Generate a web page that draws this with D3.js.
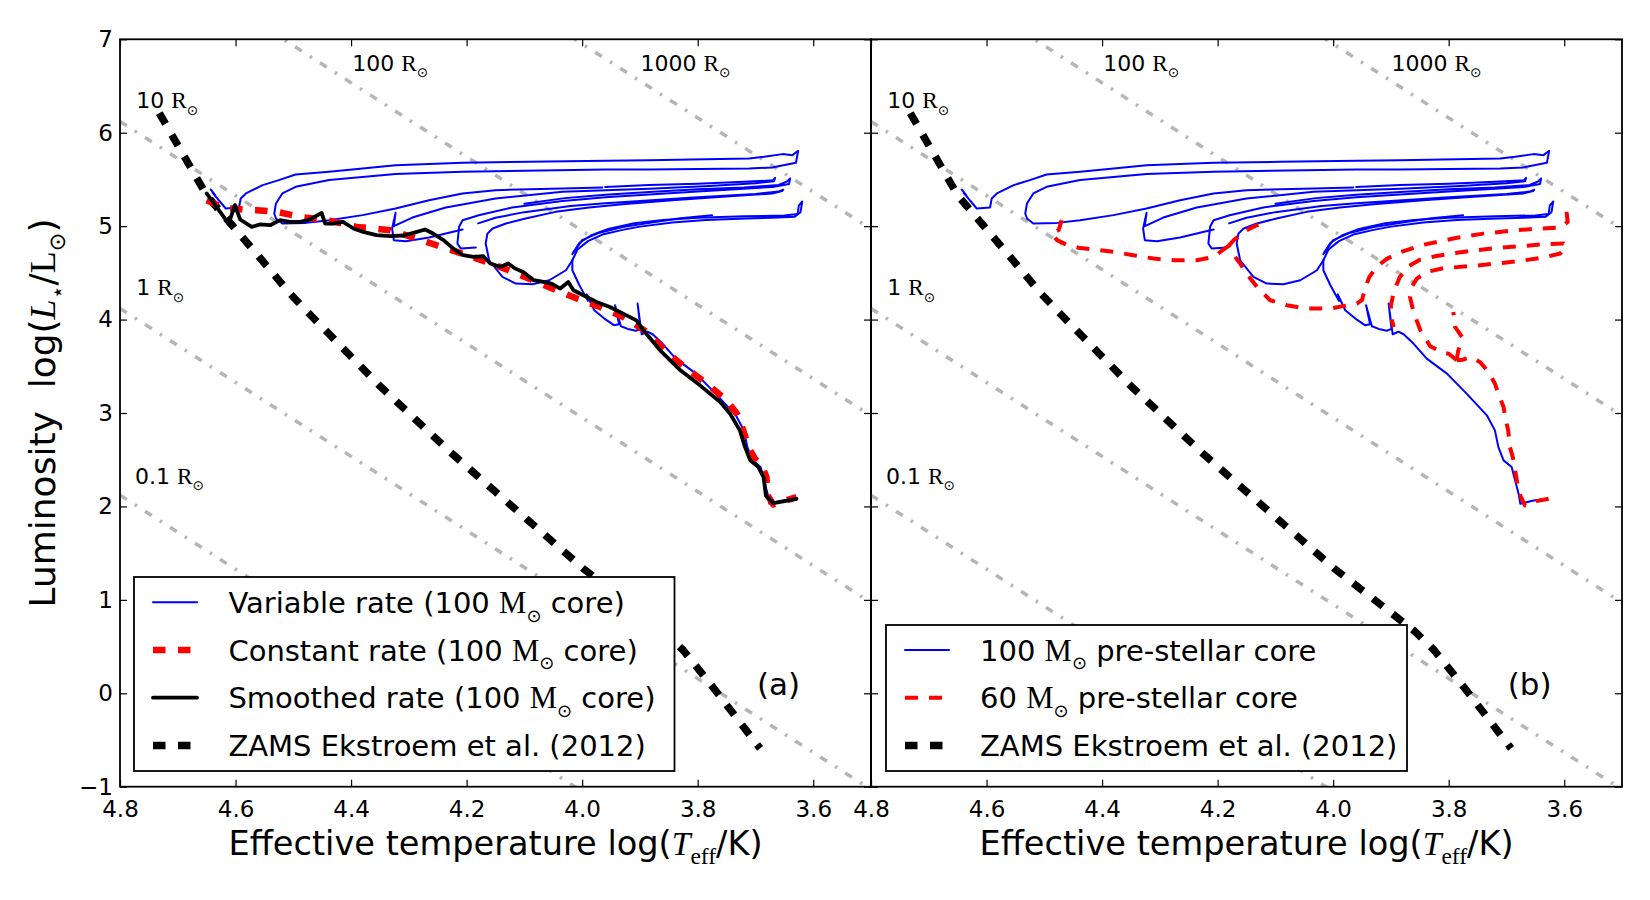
<!DOCTYPE html>
<html lang="en">
<head>
<meta charset="UTF-8" />
<title>HR diagram - accretion tracks</title>
<script src="https://d3js.org/d3.v7.min.js"></script>
<style>
  body { margin: 0; background: #fff; }
  svg { display: block; }
  text { font-family: "DejaVu Sans", sans-serif; fill: #000; }
</style>
</head>
<body>
<svg id="chart" width="1650" height="900"></svg>
<script>
// ---- data (logT, logL) ----
const xTicks = [4.8, 4.6, 4.4, 4.2, 4.0, 3.8, 3.6];
const yTicks = [-1, 0, 1, 2, 3, 4, 5, 6, 7];

// lines of constant radius: logL at logT = 4.8 and at logT = 3.5
const radiusNames = ["0.1", "1", "10", "100", "1000"];
const radiusLHot = [2.12, 4.12, 6.12, 8.12, 10.12];
const radiusLCool = [-3.03, -1.03, 0.97, 2.97, 4.97];
const radiusLabelAt = [[4.774, 2.245], [4.772, 4.26], [4.772, 6.264], [4.398, 6.664], [3.899, 6.664]];

const zams = [[4.732, 6.21], [4.69, 5.76], [4.65, 5.33], [4.555, 4.64], [4.506, 4.28], [4.472, 4.06],
  [4.352, 3.30], [4.228, 2.58], [4.097, 1.87], [3.999, 1.34], [3.86, 0.67], [3.825, 0.46],
  [3.773, 0.06], [3.692, -0.59]];

const constantRate = [[4.650, 5.278], [4.621, 5.200], [4.586, 5.178], [4.563, 5.171], [4.529, 5.153],
  [4.488, 5.100], [4.436, 5.057], [4.390, 4.992], [4.333, 4.957], [4.286, 4.867], [4.252, 4.796],
  [4.217, 4.725], [4.182, 4.653], [4.142, 4.564], [4.113, 4.492], [4.079, 4.403], [4.044, 4.314],
  [4.009, 4.225], [3.969, 4.135], [3.929, 4.028], [3.888, 3.868], [3.854, 3.653], [3.819, 3.475],
  [3.784, 3.314], [3.750, 3.135], [3.732, 2.993], [3.721, 2.814], [3.712, 2.635], [3.701, 2.510],
  [3.689, 2.439], [3.681, 2.314], [3.679, 2.117], [3.669, 2.021], [3.629, 2.100]];

const smoothedRate = [[4.650, 5.350], [4.612, 5.028], [4.601, 5.225], [4.592, 5.071], [4.572, 4.992],
  [4.558, 5.018], [4.540, 5.010], [4.523, 5.064], [4.506, 5.046], [4.488, 5.046], [4.471, 5.071],
  [4.451, 5.142], [4.445, 5.028], [4.431, 5.028], [4.414, 5.046], [4.396, 4.975], [4.379, 4.939],
  [4.356, 4.903], [4.333, 4.893], [4.309, 4.900], [4.286, 4.939], [4.272, 4.964], [4.258, 4.921],
  [4.240, 4.850], [4.223, 4.760], [4.206, 4.689], [4.188, 4.671], [4.171, 4.678], [4.159, 4.600],
  [4.142, 4.564], [4.128, 4.600], [4.116, 4.546], [4.102, 4.510], [4.084, 4.421], [4.067, 4.403],
  [4.053, 4.385], [4.038, 4.332], [4.024, 4.403], [4.015, 4.314], [3.998, 4.260], [3.975, 4.189],
  [3.952, 4.135], [3.929, 4.064], [3.906, 3.992], [3.894, 3.885], [3.865, 3.671], [3.830, 3.457],
  [3.796, 3.296], [3.761, 3.117], [3.744, 2.993], [3.727, 2.814], [3.718, 2.635], [3.709, 2.493],
  [3.695, 2.421], [3.686, 2.314], [3.682, 2.117], [3.669, 2.035], [3.652, 2.053], [3.629, 2.082]];

// variable accretion rate / 100 Msun pre-stellar core (same track in both panels)
const blueAscent = [[3.630, 2.082], [3.655, 2.06], [3.676, 2.028], [3.679, 2.135], [3.685, 2.278],
  [3.691, 2.421], [3.705, 2.493], [3.714, 2.635], [3.720, 2.814], [3.734, 2.975], [3.769, 3.207],
  [3.803, 3.421], [3.838, 3.582], [3.861, 3.743], [3.878, 3.843], [3.887, 3.87], [3.897, 3.843],
  [3.904, 4.171], [3.899, 3.90], [3.907, 3.88], [3.921, 3.90], [3.933, 3.928], [3.943, 4.153],
  [3.936, 3.95], [3.945, 3.94], [3.959, 3.999], [3.979, 4.10], [3.992, 4.27], [3.990, 4.20],
  [4.005, 4.37], [4.017, 4.528], [4.017, 4.635]];
const blueLowFinger = [[4.017, 4.635], [4.008, 4.75], [3.990, 4.84], [3.965, 4.91], [3.930, 4.96],
  [3.900, 4.995], [3.844, 5.04], [3.786, 5.065], [3.728, 5.08], [3.671, 5.09], [3.632, 5.10],
  [3.622, 5.15], [3.619, 5.265], [3.625, 5.22], [3.627, 5.13], [3.650, 5.115], [3.720, 5.105],
  [3.800, 5.09], [3.860, 5.065], [3.910, 5.03], [3.955, 4.97], [3.985, 4.90], [4.005, 4.82], [4.015, 4.72]];
const blueLowEnd = [[4.017, 4.70], [4.000, 4.85], [3.970, 4.93], [3.930, 4.99], [3.880, 5.04],
  [3.830, 5.085], [3.775, 5.117]];
const blueU = [[4.017, 4.635], [4.028, 4.528], [4.057, 4.421], [4.086, 4.378], [4.115, 4.385],
  [4.138, 4.457], [4.161, 4.635], [4.167, 4.814], [4.164, 4.92], [4.155, 4.975], [4.132, 5.028],
  [4.098, 5.082], [4.046, 5.153], [3.988, 5.20], [3.930, 5.235], [3.844, 5.278], [3.757, 5.314],
  [3.671, 5.35], [3.654, 5.375], [3.652, 5.39], [3.660, 5.37], [3.700, 5.345], [3.800, 5.31],
  [3.900, 5.27], [3.960, 5.245], [4.020, 5.215], [4.100, 5.15], [4.150, 5.09], [4.180, 5.03]];
const blueCheck21 = [[4.184, 4.771], [4.210, 4.760], [4.216, 4.814], [4.213, 4.993], [4.207, 5.064],
  [4.179, 5.117], [4.121, 5.20], [4.034, 5.27], [3.960, 5.31], [3.884, 5.34], [3.800, 5.37],
  [3.720, 5.40], [3.670, 5.42], [3.642, 5.45], [3.640, 5.51], [3.645, 5.48], [3.660, 5.44],
  [3.720, 5.415], [3.800, 5.395], [3.884, 5.365], [3.960, 5.335], [4.030, 5.30], [4.100, 5.24]];
const blueCheck33 = [[4.207, 4.964], [4.265, 4.878], [4.305, 4.839], [4.326, 4.850], [4.329, 4.975],
  [4.323, 5.142], [4.326, 5.00], [4.294, 5.092], [4.236, 5.200], [4.150, 5.296], [4.034, 5.367],
  [3.884, 5.40], [3.780, 5.43], [3.700, 5.46], [3.668, 5.48], [3.666, 5.517], [3.670, 5.49],
  [3.720, 5.475], [3.800, 5.455], [3.884, 5.44], [3.960, 5.42]];
const blueTop = [[4.643, 5.393], [4.635, 5.33], [4.640, 5.36], [4.628, 5.27], [4.632, 5.30],
  [4.617, 5.189], [4.594, 5.200], [4.591, 5.296], [4.582, 5.350], [4.553, 5.439], [4.525, 5.493],
  [4.496, 5.553], [4.438, 5.582], [4.380, 5.617], [4.323, 5.653], [4.207, 5.678], [4.092, 5.689],
  [3.959, 5.700], [3.884, 5.705], [3.711, 5.725], [3.685, 5.742], [3.653, 5.771], [3.636, 5.760],
  [3.626, 5.807], [3.630, 5.678], [3.671, 5.628], [3.711, 5.617], [3.884, 5.607], [3.959, 5.607],
  [4.207, 5.582], [4.323, 5.557], [4.438, 5.493], [4.496, 5.421], [4.519, 5.350], [4.530, 5.243],
  [4.533, 5.135], [4.530, 5.082], [4.519, 5.028], [4.478, 5.035], [4.438, 5.064], [4.380, 5.118],
  [4.323, 5.189], [4.265, 5.278], [4.207, 5.350], [4.150, 5.385], [4.034, 5.403], [3.965, 5.414]];
const variableRate = [blueAscent, blueLowFinger, blueLowEnd, blueU, blueCheck21, blueCheck33, blueTop];

// 60 Msun pre-stellar core
const redAscent = [[3.627, 2.082], [3.648, 2.057], [3.668, 2.010], [3.676, 2.117], [3.681, 2.242],
  [3.685, 2.385], [3.689, 2.528], [3.694, 2.635], [3.697, 2.814], [3.701, 2.921], [3.705, 3.064],
  [3.714, 3.207], [3.720, 3.314], [3.731, 3.439], [3.746, 3.546], [3.762, 3.60], [3.776, 3.57], [3.786, 3.564]];
const redVertical = [[3.786, 3.564], [3.784, 3.65], [3.780, 3.743], [3.777, 3.814], [3.789, 3.921], [3.792, 4.082]];
const redInner = [[3.786, 3.564], [3.800, 3.635], [3.809, 3.642], [3.832, 3.714], [3.849, 3.885],
  [3.861, 4.082], [3.867, 4.243], [3.864, 4.35], [3.855, 4.439], [3.838, 4.51], [3.809, 4.55],
  [3.757, 4.575], [3.717, 4.60], [3.676, 4.628], [3.636, 4.664], [3.607, 4.707], [3.597, 4.778],
  [3.601, 4.814], [3.636, 4.807], [3.676, 4.785], [3.717, 4.765], [3.757, 4.74], [3.792, 4.71],
  [3.821, 4.68], [3.850, 4.64], [3.870, 4.57], [3.885, 4.45], [3.895, 4.30], [3.900, 4.15],
  [3.900, 4.03], [3.895, 3.92]];
const redOuter = [[3.596, 5.153], [3.594, 5.046], [3.606, 4.985], [3.653, 4.97], [3.694, 4.95],
  [3.740, 4.92], [3.786, 4.875], [3.844, 4.80], [3.884, 4.72], [3.907, 4.65], [3.924, 4.57],
  [3.937, 4.46], [3.944, 4.35], [3.950, 4.21], [3.959, 4.171], [4.005, 4.118], [4.046, 4.118],
  [4.080, 4.153], [4.109, 4.207], [4.132, 4.35], [4.150, 4.492], [4.161, 4.60], [4.178, 4.742], [4.181, 4.79]];
const redRise = [[4.181, 4.79], [4.172, 4.85], [4.161, 4.903], [4.150, 4.957], [4.132, 5.01], [4.118, 5.035]];
const redLeft = [[4.181, 4.79], [4.207, 4.671], [4.236, 4.635], [4.276, 4.635], [4.311, 4.653],
  [4.346, 4.689], [4.380, 4.725], [4.415, 4.75], [4.438, 4.765], [4.461, 4.80], [4.478, 4.85],
  [4.487, 4.92], [4.475, 4.96], [4.470, 5.064]];
const core60 = [redAscent, redVertical, redInner, redOuter, redRise, redLeft];

const legendA = ["Variable rate (100 M☉ core)", "Constant rate (100 M☉ core)",
  "Smoothed rate (100 M☉ core)", "ZAMS Ekstroem et al. (2012)"];
const legendB = ["100 M☉ pre-stellar core", "60 M☉ pre-stellar core", "ZAMS Ekstroem et al. (2012)"];

// ---- drawing ----
const SERIF = "'Liberation Serif', 'DejaVu Serif', serif";
const svg = d3.select("#chart");
const W = 751, TOP = 39.3, BOTTOM = 786.7;
const y = d3.scaleLinear().domain([-1, 7]).range([BOTTOM, TOP]);

const styles = {
  radius: { stroke: "#b5b5b5", width: 3.5, dash: "8,9.6,2.5,9.6" },
  zams: { stroke: "#000", width: 7.5, dash: "12.5,12.5" },
  blue: { stroke: "#0000ff", width: 2, dash: null },
  constant: { stroke: "#ff0000", width: 6.5, dash: "12.5,12.5" },
  smoothed: { stroke: "#000", width: 3.8, dash: null },
  red60: { stroke: "#ff0000", width: 4, dash: "13,11" }
};

// text with "M☉" / "R☉" drawn as serif letter + subscript sun sign
function richText(sel, str, size) {
  const pieces = str.split(/(M☉|R☉)/);
  let shifted = false;
  pieces.forEach(p => {
    if (!p) return;
    if (p === "M☉" || p === "R☉") {
      const a = sel.append("tspan").attr("font-family", SERIF).attr("font-size", size * 1.06).text(p[0]);
      if (shifted) a.attr("dy", -size * 0.3);
      sel.append("tspan").attr("font-family", "'DejaVu Sans', sans-serif")
        .attr("font-size", size * 0.62).attr("dy", size * 0.3).text("\u2299");
      shifted = true;
    } else {
      const t = sel.append("tspan").text(p);
      if (shifted) t.attr("dy", -size * 0.3);
      shifted = false;
    }
  });
}

function parts(sel, list, size) {
  let shift = 0;
  list.forEach(([s, kind]) => {
    const t = sel.append("tspan").text(s);
    let dy;
    if (kind === "sub") {
      t.attr("font-family", SERIF).attr("font-size", size * 0.7);
      dy = size * 0.28 - shift; shift = size * 0.28;
    } else if (kind === "subsans") {
      t.attr("font-size", size * 0.62);
      dy = size * 0.28 - shift; shift = size * 0.28;
    } else {
      dy = -shift; shift = 0;
      if (kind === "it") t.attr("font-family", SERIF).attr("font-style", "italic");
      if (kind === "rm") t.attr("font-family", SERIF);
    }
    if (dy) t.attr("dy", dy);
  });
}

function drawLine(g, data, st, line) {
  const p = g.append("path").datum(data).attr("d", line)
    .attr("fill", "none").attr("stroke", st.stroke).attr("stroke-width", st.width)
    .attr("stroke-linejoin", "round");
  if (st.dash) p.attr("stroke-dasharray", st.dash).attr("stroke-linecap", "butt");
  else p.attr("stroke-linecap", "round");
  return p;
}

function drawPanel(x0, id, tracks, lg, panelLabel, showY) {
  const x = d3.scaleLinear().domain([4.8, 3.5]).range([x0, x0 + W]);
  const line = d3.line().x(d => x(d[0])).y(d => y(d[1]));

  svg.append("clipPath").attr("id", "clip-" + id).append("rect")
    .attr("x", x0).attr("y", TOP).attr("width", W).attr("height", BOTTOM - TOP);
  const plot = svg.append("g").attr("clip-path", `url(#clip-${id})`);

  radiusLHot.forEach((l, i) => {
    drawLine(plot, [[4.8, l], [3.5, radiusLCool[i]]], styles.radius, line);
  });
  radiusNames.forEach((n, i) => {
    const t = plot.append("text").attr("x", x(radiusLabelAt[i][0])).attr("y", y(radiusLabelAt[i][1]))
      .attr("font-family", SERIF).attr("font-size", 22);
    richText(t, n + " R☉", 22);
  });

  drawLine(plot, zams, styles.zams, line);
  tracks.forEach(tr => tr.data.forEach(seg => drawLine(plot, seg, tr.style, line)));

  // axes, inward ticks on all four sides
  const fmt = d3.format(".1f");
  const bottomAxis = svg.append("g").attr("transform", `translate(0,${BOTTOM})`)
    .call(d3.axisBottom(x).tickValues(xTicks).tickSize(-7).tickPadding(13.5).tickFormat(fmt));
  svg.append("g").attr("transform", `translate(0,${TOP})`)
    .call(d3.axisTop(x).tickValues(xTicks).tickSize(-7).tickFormat(""));
  const leftAxis = svg.append("g").attr("transform", `translate(${x0},0)`)
    .call(d3.axisLeft(y).tickValues(yTicks).tickSize(-7).tickPadding(7)
      .tickFormat(d => showY ? (d < 0 ? "\u2212" + Math.abs(d) : d) : ""));
  svg.append("g").attr("transform", `translate(${x0 + W},0)`)
    .call(d3.axisRight(y).tickValues(yTicks).tickSize(-7).tickFormat(""));
  svg.selectAll(".domain").remove();
  svg.selectAll(".tick line").attr("stroke", "#000").attr("stroke-width", 1.2);
  [bottomAxis, leftAxis].forEach(a => a.selectAll("text")
    .attr("font-family", "'DejaVu Sans', sans-serif").attr("font-size", 23).attr("fill", "#000"));

  svg.append("rect").attr("x", x0).attr("y", TOP).attr("width", W).attr("height", BOTTOM - TOP)
    .attr("fill", "none").attr("stroke", "#000").attr("stroke-width", 1.8);

  const xt = svg.append("text").attr("x", x0 + W / 2).attr("y", 855)
    .attr("text-anchor", "middle").attr("font-size", 33.6);
  parts(xt, [["Effective temperature log(", ""], ["T", "it"], ["eff", "sub"], ["/K)", ""]], 33.6);

  // legend
  svg.append("rect").attr("x", lg.x).attr("y", lg.y).attr("width", lg.w).attr("height", lg.h)
    .attr("fill", "#fff").attr("stroke", "#000").attr("stroke-width", 1.8);
  lg.items.forEach((it, i) => {
    const ry = lg.y + lg.first + i * 47.7;
    drawLine(svg, [[0, 0], [1, 0]], it.style,
      d3.line().x(d => lg.x + 19 + d[0] * 44).y(() => ry));
    const t = svg.append("text").attr("x", lg.x + lg.textDx).attr("y", ry + 10.5).attr("font-size", 29);
    richText(t, it.label, 29);
  });

  svg.append("text").attr("x", x(panelLabel.at[0])).attr("y", y(panelLabel.at[1]))
    .attr("text-anchor", "middle").attr("font-size", 31).text(panelLabel.text);
}

drawPanel(120, "a",
  [{ data: variableRate, style: styles.blue },
   { data: [constantRate], style: styles.constant },
   { data: [smoothedRate], style: styles.smoothed }],
  { x: 134, y: 577, w: 540.5, h: 194, first: 25.3, textDx: 94.4,
    items: [{ label: legendA[0], style: styles.blue }, { label: legendA[1], style: styles.constant },
            { label: legendA[2], style: styles.smoothed }, { label: legendA[3], style: styles.zams }] },
  { text: "(a)", at: [3.660, -0.02] }, true);

drawPanel(871, "b",
  [{ data: variableRate, style: styles.blue },
   { data: core60, style: styles.red60 }],
  { x: 886, y: 625, w: 521, h: 146, first: 25, textDx: 94,
    items: [{ label: legendB[0], style: styles.blue }, { label: legendB[1], style: styles.red60 },
            { label: legendB[2], style: styles.zams }] },
  { text: "(b)", at: [3.660, -0.02] }, false);

// y axis title
const yt = svg.append("text").attr("transform", "translate(55,413) rotate(-90)")
  .attr("text-anchor", "middle").attr("font-size", 36);
parts(yt, [["Luminosity\u00a0\u00a0log(", ""], ["L", "it"], ["\u22c6", "subsans"], ["/", ""], ["L", "rm"], ["\u2299", "subsans"], [")", ""]], 36);
</script>
</body>
</html>
